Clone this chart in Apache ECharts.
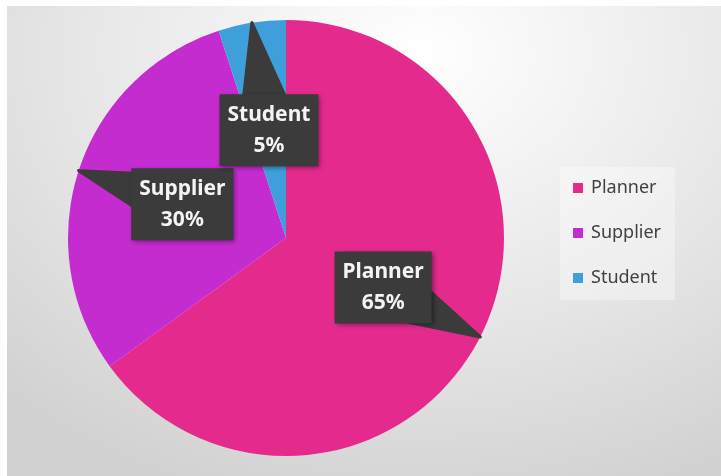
<!DOCTYPE html>
<html>
<head>
<meta charset="utf-8">
<script src="https://cdn.jsdelivr.net/npm/echarts@6/dist/echarts.min.js"></script>
<style>
  html, body { margin: 0; padding: 0; background: #ffffff; width: 721px; height: 476px; overflow: hidden; }
  #wrap { position: absolute; left: 7px; top: 6px; width: 714px; height: 470px;
    background: radial-gradient(ellipse 85% 100% at 58% 10%, #ffffff 0%, #f2f2f2 30%, #e4e4e4 62%, #d1d1d1 100%); }
  #c { width: 714px; height: 470px; }
</style>
</head>
<body>
<div id="wrap"><div id="c"></div></div>
<script>
const categories = ['Planner', 'Supplier', 'Student'];
const values = [65, 30, 5];
const colors = ['#E52A8E', '#C52CD0', '#3E9FDB'];

const PIE_CENTER = [279, 232];
const PIE_RADIUS = 218;
const BOX = '#3b3b3b';

function fan(tip, base, halfW) {
  const dx = base[0] - tip[0], dy = base[1] - tip[1];
  const L = Math.hypot(dx, dy) || 1;
  const nx = -dy / L, ny = dx / L;
  const pts = [];
  for (let o = -halfW; o <= halfW + 0.01; o += 2.5) {
    pts.push([tip[0], tip[1]]);
    pts.push([base[0] + nx * o, base[1] + ny * o]);
  }
  return pts;
}

const pieData = categories.map((n, i) => ({ name: n, value: values[i], itemStyle: { color: colors[i] } }));
const overlayData = categories.map((n, i) => ({ name: n, value: values[i], itemStyle: { color: 'rgba(0,0,0,0)' } }));

const chart = echarts.init(document.getElementById('c'));
chart.setOption({
  animation: false,
  legend: {
    orient: 'vertical',
    left: 553,
    top: 161,
    padding: [12, 14, 13, 13],
    backgroundColor: 'rgba(255,255,255,0.35)',
    itemWidth: 10,
    itemHeight: 10,
    itemGap: 27,
    icon: 'rect',
    data: categories.map((n, i) => ({ name: n, itemStyle: { color: colors[i] } })),
    textStyle: { fontFamily: 'Noto Sans', fontSize: 18, lineHeight: 18, color: '#404040', padding: [0, 0, 0, 3] }
  },
  series: [{
    type: 'pie',
    z: 2,
    center: PIE_CENTER,
    radius: PIE_RADIUS,
    startAngle: 90,
    clockwise: true,
    emphasis: { disabled: true },
    silent: true,
    data: pieData,
    label: { show: false },
    labelLine: { show: false }
  }, {
    type: 'pie',
    z: 3,
    center: PIE_CENTER,
    radius: PIE_RADIUS,
    startAngle: 90,
    clockwise: true,
    avoidLabelOverlap: false,
    emphasis: { disabled: true },
    silent: true,
    data: overlayData,
    label: {
      show: true,
      position: 'outside',
      formatter: '{b}\n{d}%',
      color: '#f4f4f4',
      fontFamily: 'Noto Sans',
      fontWeight: 'bold',
      fontSize: 21,
      lineHeight: 31,
      align: 'center',
      backgroundColor: BOX,
      padding: [5, 8],
      shadowColor: 'rgba(0,0,0,0.45)',
      shadowBlur: 5,
      shadowOffsetX: 2,
      shadowOffsetY: 2
    },
    labelLine: {
      show: true,
      length: 10,
      length2: 10,
      smooth: false,
      lineStyle: { color: BOX, width: 3, join: 'round', cap: 'round' }
    },
    labelLayout: function (p) {
      const t = p.labelLinePoints[0];
      const x = PIE_CENTER[0] + (t[0] - PIE_CENTER[0]) * 0.5;
      const y = PIE_CENTER[1] + (t[1] - PIE_CENTER[1]) * 0.5;
      return { x: x, y: y, align: 'center', verticalAlign: 'middle', labelLinePoints: fan(t, [x, y], 30) };
    }
  }]
});
</script>
</body>
</html>
